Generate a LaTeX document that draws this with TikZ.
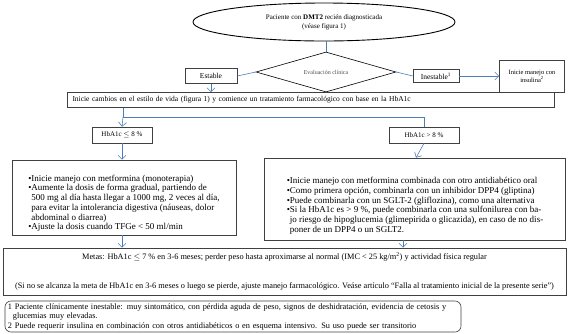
\documentclass[tikz,border=0pt]{standalone}
\usepackage{fontspec}
\setmainfont{Liberation Serif}
\usetikzlibrary{shapes.geometric,arrows.meta}
\definecolor{azul}{RGB}{74,126,187}
\begin{document}
\begin{tikzpicture}[x=1pt,y=-1pt,
	caja/.style={draw=black!75, line width=0.6pt, inner sep=2pt},
	liga/.style={draw=azul, line width=0.6pt},
	flecha/.style={liga, -{Straight Barb[length=4pt,width=8pt]}}]
	\useasboundingbox (0,0) rectangle (569,333);
	\node [ellipse, draw, line width=0.9pt, minimum width=262, minimum height=38, align=center, font=\fontsize{7}{9}\selectfont] (pac) at (324,22) {Paciente con \textbf{DMT2} recién diagnosticada\\(véase figura 1)};
	\node [diamond, draw, line width=0.6pt, aspect=3.5, minimum width=140, minimum height=40, inner sep=0pt, font=\fontsize{6}{7}\selectfont\color{black!70}] (eva) at (326,72) {Evaluación clínica};
	\node [caja, minimum width=52, minimum height=15, font=\fontsize{7.5}{9}\selectfont] (est) at (211,76) {Estable};
	\node [caja, minimum width=46, minimum height=13, font=\fontsize{7.5}{9}\selectfont] (ine) at (436,76) {Inestable\textsuperscript{1}};
	\node [caja, minimum width=65, minimum height=32, align=center, font=\fontsize{6.5}{8}\selectfont] (ins) at (532,76) {Inicie manejo con\\insulina\textsuperscript{2}};
	\node [caja, minimum width=487, minimum height=15, text width=477, inner xsep=5pt, align=left, font=\fontsize{7.5}{9}\selectfont] (cam) at (311,100) {Inicie cambios en el estilo de vida (figura 1) y comience un tratamiento farmacológico con base en la HbA1c};
	\node [caja, minimum width=60, minimum height=16, font=\fontsize{7}{9}\selectfont] (hba) at (122,135) {HbA1c $\leq$ 8 \%};
	\node [caja, minimum width=70, minimum height=16, font=\fontsize{7}{9}\selectfont] (hbb) at (424,135) {HbA1c > 8 \%};
	\node [caja, minimum width=224, minimum height=75, align=left, inner xsep=3pt, font=\fontsize{9}{9.7}\selectfont] (izq) at (124,197.5) {\rule{0pt}{18pt}\textbullet Inicie manejo con metformina (monoterapia)\\
		\textbullet Aumente la dosis de forma gradual, partiendo de\\
		\hspace*{3pt}500 mg al día hasta llegar a 1000 mg, 2 veces al día,\\
		\hspace*{3pt}para evitar la intolerancia digestiva (náuseas, dolor\\
		\hspace*{3pt}abdominal o diarrea)\\
		\textbullet Ajuste la dosis cuando TFGe < 50 ml/min};
	\node [caja, minimum width=301, minimum height=82, align=left, inner xsep=3pt, font=\fontsize{9}{9.7}\selectfont] (der) at (415,199) {\rule{0pt}{20pt}\textbullet Inicie manejo con metformina combinada con otro antidiabético oral\\
		\textbullet Como primera opción, combinarla con un inhibidor DPP4 (gliptina)\\
		\textbullet Puede combinarla con un SGLT-2 (gliflozina), como una alternativa\\
		\textbullet Si la HbA1c es > 9 \%, puede combinarla con una sulfonilurea con ba-\\
		\hspace*{3pt}jo riesgo de hipoglucemia (glimepirida o glicazida), en caso de no dis-\\
		\hspace*{3pt}poner de un DPP4 o un SGLT2.};
	\node [caja, minimum width=563, minimum height=47, align=center, font=\fontsize{8.3}{9.5}\selectfont] (met) at (284.5,271.5) {Metas: HbA1c $\leq$ 7 \% en 3-6 meses; perder peso hasta aproximarse al normal (IMC < 25 kg/m\textsuperscript{2}) y actividad física regular\\[19pt]
		(Si no se alcanza la meta de HbA1c en 3-6 meses o luego se pierde, ajuste manejo farmacológico. Veáse artículo “Falla al tratamiento inicial de la presente serie”)};
	\node [caja, rounded corners=6pt, minimum width=456, minimum height=31, text width=450, inner xsep=3pt, align=left, font=\fontsize{8.3}{9.5}\selectfont] (not) at (233,316.5) {1 Paciente clínicamente inestable: muy sintomático, con pérdida aguda de peso, signos de deshidratación, evidencia de cetosis y\\
		\hspace*{5pt}glucemias muy elevadas.\\
		2 Puede requerir insulina en combinación con otros antidiabéticos o en esquema intensivo. Su uso puede ser transitorio};
	\coordinate (rama) at (123,117);
	\draw [liga] (pac.south -| eva.north) -- (eva.north);
	\draw [liga] (est.east) -- (eva.west);
	\draw [liga] (eva.east) -- (ine.west);
	\draw [flecha] (ine.east) -- (ins.west);
	\draw [flecha] (est.south) -- (est.south |- cam.north);
	\draw [liga] (rama |- cam.south) -- (rama) -| (hbb.north);
	\draw [flecha] (rama) -- (hba.north);
	\draw [flecha] (hba.south) -- (hba.south |- izq.north);
	\draw [flecha] (hbb.south) -- ([xshift=-8pt]hbb.south |- der.north);
	\draw [flecha] (izq.south -| hba.south) -- (hba.south |- met.north);
	\draw [flecha] (403,0 |- der.south) -- (403,0 |- met.north);
\end{tikzpicture}
\end{document}
